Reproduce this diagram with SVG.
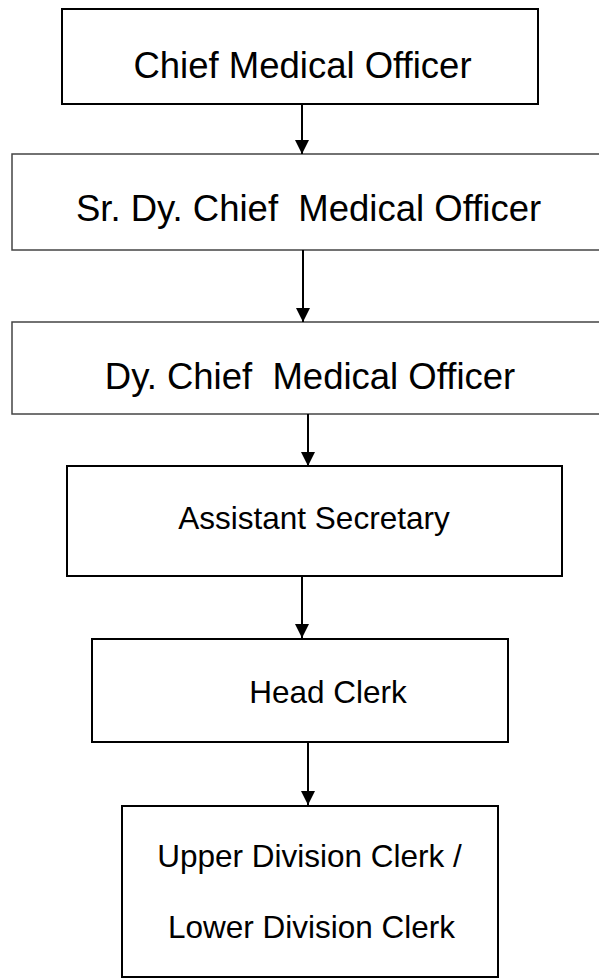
<svg xmlns="http://www.w3.org/2000/svg" width="599" height="980" viewBox="0 0 599 980">
  <defs>
    <!-- solid triangular head, tip at the end of the line -->
    <marker id="arrow" viewBox="0 0 14 14" refX="14" refY="7" markerWidth="14" markerHeight="14" markerUnits="userSpaceOnUse" orient="auto">
      <path d="M0,0 L14,7 L0,14 Z" fill="#000"/>
    </marker>
  </defs>
  <style>
    .box { fill: #fff; stroke: #000; stroke-width: 2; }
    .thin { stroke: #444; stroke-width: 1.5; }
    .lbl { font-family: "Liberation Sans", Arial, sans-serif; fill: #000; text-anchor: middle; }
    .big { font-size: 36.5px; }
    .small { font-size: 31.5px; }
    .conn { stroke: #000; stroke-width: 2; fill: none; }
  </style>

  <g id="chief-medical-officer">
    <rect class="box" x="62" y="9" width="476" height="95"/>
    <text class="lbl big" x="302.5" y="78">Chief Medical Officer</text>
  </g>

  <g id="sr-dy-chief-medical-officer">
    <rect class="box thin" x="12" y="154" width="600" height="96"/>
    <text class="lbl big" x="308.5" y="221" xml:space="preserve">Sr. Dy. Chief  Medical Officer</text>
  </g>

  <g id="dy-chief-medical-officer">
    <rect class="box thin" x="12" y="322" width="600" height="92"/>
    <text class="lbl big" x="310" y="389" xml:space="preserve">Dy. Chief  Medical Officer</text>
  </g>

  <g id="assistant-secretary">
    <rect class="box" x="67" y="466" width="495" height="110"/>
    <text class="lbl small" x="314" y="529">Assistant Secretary</text>
  </g>

  <g id="head-clerk">
    <rect class="box" x="92" y="639" width="416" height="103"/>
    <text class="lbl small" x="328" y="703">Head Clerk</text>
  </g>

  <g id="division-clerk">
    <rect class="box" x="122" y="806" width="376" height="171"/>
    <text class="lbl small" x="309.5" y="867">Upper Division Clerk /</text>
    <text class="lbl small" x="311.5" y="938">Lower Division Clerk</text>
  </g>

  <g id="connectors">
    <line class="conn" x1="302" y1="104" x2="302" y2="154" marker-end="url(#arrow)"/>
    <line class="conn" x1="303" y1="250" x2="303" y2="322" marker-end="url(#arrow)"/>
    <line class="conn" x1="308" y1="414" x2="308" y2="466" marker-end="url(#arrow)"/>
    <line class="conn" x1="302" y1="576" x2="302" y2="638" marker-end="url(#arrow)"/>
    <line class="conn" x1="308" y1="742" x2="308" y2="805" marker-end="url(#arrow)"/>
  </g>
</svg>
